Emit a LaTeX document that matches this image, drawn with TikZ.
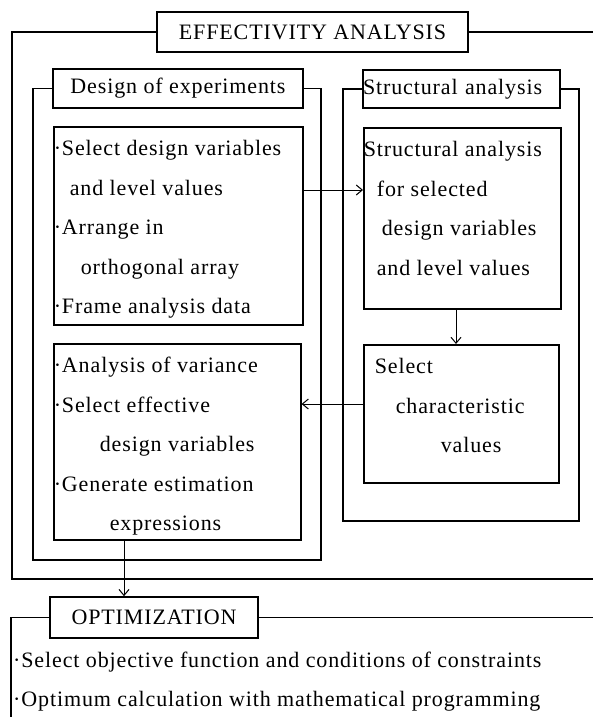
\documentclass[tikz,border=0pt]{standalone}
\usepackage{fontspec}
\setmainfont{Liberation Serif}[LetterSpace=4]
\usepackage{tikz}
\usetikzlibrary{arrows.meta}

% a box of steps: text starts at the top, lines 39.5pt apart
\newcommand\steplist[3]{\parbox[c][#2][t]{#1}{\fontsize{22}{39.5}\selectfont\rule{0pt}{29pt}#3}}

\begin{document}
\begin{tikzpicture}[x=1pt, y=-1pt, >={Straight Barb[length=6pt,width=10pt]},
	title/.style={draw, line width=1.6pt, inner sep=0pt, font=\fontsize{22}{26}\selectfont},
	stepbox/.style={draw, line width=1.6pt, inner sep=0pt, anchor=north west},
	frame/.style={line width=1.1pt},
	flow/.style={->, line width=1pt}]
	\useasboundingbox (0,0) rectangle (593,717);

	% headings
	\node[title, minimum width=311pt, minimum height=40pt] (eff) at (312.5,32) {EFFECTIVITY ANALYSIS};
	\node[title, minimum width=250pt, minimum height=39pt] (doe) at (178,88.5) {Design of experiments};
	\node[title, text width=197pt, minimum height=38pt, align=left] (sa) at (461.5,89) {Structural analysis};
	\node[title, minimum width=208pt, minimum height=41pt] (opt) at (154,617.5) {OPTIMIZATION};

	% steps
	\node[stepbox] (sel) at (53,126) {\steplist{249pt}{198pt}{%
		·Select design variables\\
		\hspace*{16pt}and level values\\
		·Arrange in\\
		\hspace*{27pt}orthogonal array\\
		·Frame analysis data}};
	\node[stepbox] (sas) at (363,127) {\steplist{197pt}{181pt}{%
		Structural analysis\\
		\hspace*{13pt}for selected\\
		\hspace*{18pt}design variables\\
		\hspace*{13pt}and level values}};
	\node[stepbox] (anova) at (53,343) {\steplist{247pt}{196pt}{%
		·Analysis of variance\\
		·Select effective\\
		\hspace*{46pt}design variables\\
		·Generate estimation\\
		\hspace*{56pt}expressions}};
	\node[stepbox] (chr) at (363,344) {\steplist{195pt}{138pt}{%
		\hspace*{11pt}Select\\
		\hspace*{32pt}characteristic\\
		\hspace*{77pt}values}};
	\node[anchor=north west, inner sep=0pt] (optsteps) at (13,638) {\steplist{570pt}{79pt}{%
		·Select objective function and conditions of constraints\\
		·Optimum calculation with mathematical programming}};

	% frames round each stage
	\coordinate (edge) at (593,0);
	\draw[frame] (eff.west) -| (12,579) -- (593,579);
	\draw[frame] (eff.east) -- (eff.east -| edge);
	\draw[frame] (doe.west) -| (33,560) -| (doe.east -| 321,0) -- (doe.east);
	\draw[frame] (sa.west) -| (343,521) -| (sa.east -| 579,0) -- (sa.east);
	\draw[frame] (opt.west) -| (11,717);
	\draw[frame] (opt.east) -- (opt.east -| edge);

	% flow between the steps
	\coordinate (a1) at (0,190);
	\coordinate (a2) at (456,0);
	\coordinate (a3) at (0,404);
	\coordinate (a4) at (124,0);
	\path[flow]
		(sel.east |- a1) edge (sas.west |- a1)
		(sas.south -| a2) edge (chr.north -| a2)
		(chr.west |- a3) edge (anova.east |- a3)
		(anova.south -| a4) edge (opt.north -| a4);
\end{tikzpicture}
\end{document}
